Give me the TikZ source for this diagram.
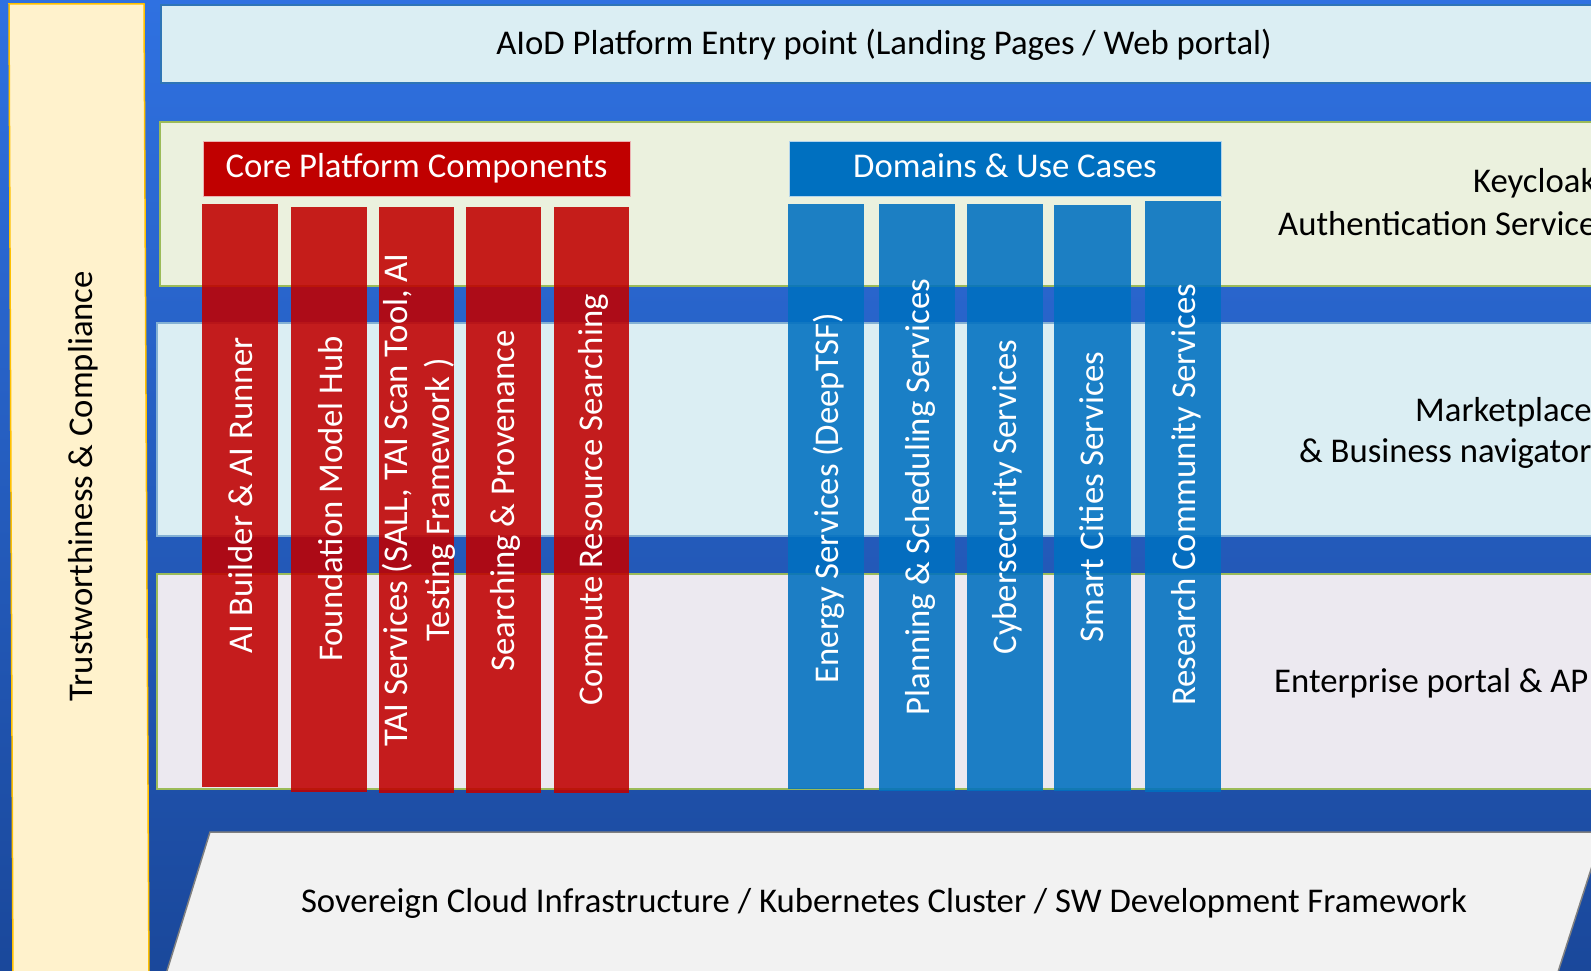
\documentclass[tikz,border=0pt]{standalone}
\usepackage{fontspec}
\setmainfont{Carlito}
\definecolor{bgtop}{RGB}{47,113,225}
\definecolor{bgbot}{RGB}{26,72,155}
\definecolor{lightband}{HTML}{DBEEF3}
\definecolor{lightline}{HTML}{2E75B6}
\definecolor{greenband}{HTML}{EBF1DE}
\definecolor{greenline}{HTML}{9BBB59}
\definecolor{lavband}{RGB}{236,233,240}
\definecolor{yellowfill}{HTML}{FFF2CC}
\definecolor{yellowline}{HTML}{FFC000}
\definecolor{coreRed}{HTML}{C00000}
\definecolor{domBlue}{HTML}{0070C0}
\definecolor{greyfill}{HTML}{F2F2F2}
\tikzset{
  txt/.style={font=\fontsize{34.7}{42}\selectfont, inner sep=0pt, text=black},
  wtxt/.style={font=\fontsize{34.7}{42}\selectfont, inner sep=0pt, text=white},
  redcol/.style={fill=coreRed, fill opacity=0.88, draw=none, inner sep=0pt},
  bluecol/.style={fill=domBlue, fill opacity=0.88, draw=none, inner sep=0pt},
  header/.style={draw=white!70!#1, line width=0.8pt, fill=#1, inner sep=0pt},
}
\begin{document}
\begin{tikzpicture}[x=1pt,y=-1pt]
\useasboundingbox (0,0) rectangle (1591,971);
\clip (0,0) rectangle (1591,971);
% background gradient
\shade[top color=bgtop, bottom color=bgbot] (0,0) rectangle (1591,971);
% horizontal bands
\filldraw[fill=lightband, draw=lightline, line width=1.2pt] (161,5) rectangle (1610,83);
\filldraw[fill=greenband, draw=greenline, line width=1.5pt] (160,122) rectangle (1610,286);
\filldraw[fill=lightband, draw=lightline!50!lightband, line width=1.2pt] (157,323) rectangle (1610,536);
\filldraw[fill=lavband, draw=greenline, line width=1.5pt] (157,574) rectangle (1610,789);
% sovereign cloud parallelogram
\filldraw[fill=greyfill, draw=gray, line width=1.5pt] (210,832) -- (1603,832) -- (1549,1000) -- (158,1000) -- cycle;
% trustworthiness panel
\filldraw[fill=yellowfill, draw=yellowline, line width=1.5pt] (9,4) -- (144,4) -- (149,980) -- (13,980) -- cycle;

% texts on bands
\node[txt, anchor=base] (entry) at (884,55) {AIoD Platform Entry point (Landing Pages / Web portal)};
\node[txt, anchor=base west] (kc1) at (1473,193) {Keycloak};
\node[txt, anchor=base west] (kc2) at (1278,235) {Authentication Services};
\node[txt, anchor=base west] (mp1) at (1415,421) {Marketplace};
\node[txt, anchor=base west] (mp2) at (1299,462) {\& Business navigator};
\node[txt, anchor=base west] (ep) at (1274,692) {Enterprise portal \& API};
\node[txt, anchor=base] (cloud) at (884,912) {Sovereign Cloud Infrastructure / Kubernetes Cluster / SW Development Framework};
\node[txt, anchor=base, rotate=90] (trust) at (92,486) {Trustworthiness \& Compliance};

% headers
\node[header=coreRed, minimum width=427pt, minimum height=55pt] (corehdr) at (416.5,168.5) {};
\node[wtxt, anchor=base] (coretxt) at (416.5,178) {Core Platform Components};
\node[header=domBlue, minimum width=432pt, minimum height=55pt] (domhdr) at (1005,168.5) {};
\node[wtxt, anchor=base] (domtxt) at (1005,178) {Domains \& Use Cases};

% red columns
\node[redcol, minimum width=76pt, minimum height=583pt] (r1) at (240,495.5) {};
\node[redcol, minimum width=76pt, minimum height=585pt] (r2) at (329,499.5) {};
\node[redcol, minimum width=75pt, minimum height=586pt] (r3) at (416.5,500) {};
\node[redcol, minimum width=75pt, minimum height=586pt] (r4) at (503.5,500) {};
\node[redcol, minimum width=75pt, minimum height=586pt] (r5) at (591,500) {};
\node[wtxt, anchor=base, rotate=90] (r1t) at (252,495) {AI Builder \& AI Runner};
\node[wtxt, anchor=base, rotate=90] (r2t) at (342,499) {Foundation Model Hub};
\node[wtxt, anchor=center, rotate=90, align=center] (r3t) at (419,500) {TAI Services (SALL, TAI Scan Tool, AI\\Testing Framework )};
\node[wtxt, anchor=base, rotate=90] (r4t) at (514,501) {Searching \& Provenance};
\node[wtxt, anchor=base, rotate=90] (r5t) at (602,500) {Compute Resource Searching};

% blue columns
\node[bluecol, minimum width=76pt, minimum height=585pt] (b1) at (826,496.5) {};
\node[bluecol, minimum width=76pt, minimum height=587pt] (b2) at (917,497.5) {};
\node[bluecol, minimum width=76pt, minimum height=587pt] (b3) at (1005,497.5) {};
\node[bluecol, minimum width=77pt, minimum height=586pt] (b4) at (1092.5,498) {};
\node[bluecol, minimum width=76pt, minimum height=591pt] (b5) at (1183,496.5) {};
\node[wtxt, anchor=base, rotate=90] (b1t) at (838,498) {Energy Services (DeepTSF)};
\node[wtxt, anchor=base, rotate=90] (b2t) at (929,497) {Planning \& Scheduling Services};
\node[wtxt, anchor=base, rotate=90] (b3t) at (1016.5,497) {Cybersecurity Services};
\node[wtxt, anchor=base, rotate=90] (b4t) at (1103,497) {Smart Cities Services};
\node[wtxt, anchor=base, rotate=90] (b5t) at (1195,495) {Research Community Services};
\end{tikzpicture}
\end{document}
